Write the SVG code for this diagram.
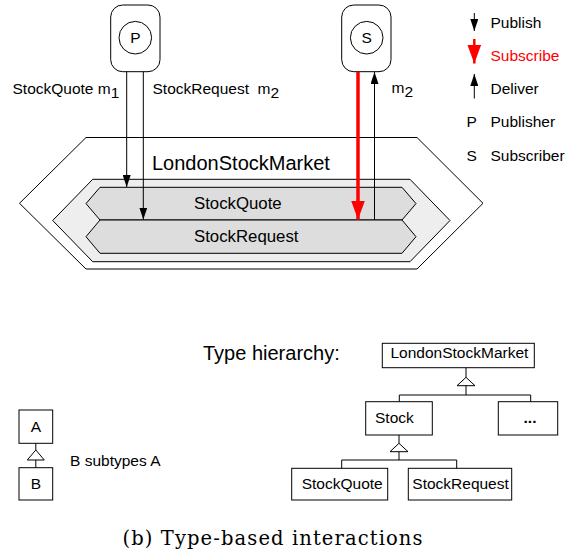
<svg xmlns="http://www.w3.org/2000/svg" width="580" height="558" viewBox="0 0 580 558">
  <style>
    .t { font-family: "Liberation Sans", Arial, sans-serif; font-size: 15.5px; fill: #000; }
    .big { font-size: 20px; }
    .chan { font-size: 16.8px; }
    .red { fill: #ff0000; }
    .ln { stroke: #000; stroke-width: 1; fill: none; }
    .box { stroke: #000; stroke-width: 1; fill: #fff; }
    .serif { font-family: "DejaVu Serif", "Liberation Serif", serif; font-size: 19.5px; fill: #000; }
  </style>
  <defs>
    <marker id="arr" markerUnits="userSpaceOnUse" markerWidth="12" markerHeight="8" refX="12" refY="4" orient="auto">
      <path d="M0,0 L12,4 L0,8 z" fill="#000"/>
    </marker>
    <marker id="arrRed" markerUnits="userSpaceOnUse" markerWidth="19" markerHeight="14" refX="19" refY="7" orient="auto">
      <path d="M0,0 L19,7 L0,14 z" fill="#ff0000"/>
    </marker>
  </defs>

  <!-- event service hexagons -->
  <g id="LondonStockMarketArea">
    <polygon points="86,137.5 417,137.5 483,203.3 417,269 86,269 19.5,203.3" class="box"/>
    <polygon points="92.7,179.3 410,179.3 450,220.5 410,261.7 92.7,261.7 52.7,220.5" fill="#eeeeee" stroke="#000" stroke-width="1"/>
    <text class="t big" x="152" y="170">LondonStockMarket</text>
  </g>
  <g id="StockQuoteChannel">
    <polygon points="100,187.3 402,187.3 416,203.6 402,220 100,220 86,203.6" fill="#dddddd" stroke="#000" stroke-width="1"/>
    <text class="t chan" x="194" y="209">StockQuote</text>
  </g>
  <g id="StockRequestChannel">
    <polygon points="100,220 402,220 416,236.7 402,253.3 100,253.3 86,236.7" fill="#dddddd" stroke="#000" stroke-width="1"/>
    <text class="t chan" x="194" y="242">StockRequest</text>
  </g>

  <!-- publisher -->
  <g id="Publisher">
    <rect x="110.7" y="5" width="49.3" height="66.7" rx="12" class="box"/>
    <circle cx="135.3" cy="37.7" r="16.3" class="box"/>
    <text class="t" x="135.3" y="43.3" text-anchor="middle">P</text>
  </g>

  <!-- subscriber -->
  <g id="Subscriber">
    <rect x="341.7" y="5" width="49.3" height="66.7" rx="12" class="box"/>
    <circle cx="366.7" cy="37.7" r="16.3" class="box"/>
    <text class="t" x="366.7" y="43.3" text-anchor="middle">S</text>
  </g>

  <!-- interactions -->
  <g id="connectors">
    <line x1="126.7" y1="71.7" x2="126.7" y2="187" class="ln" marker-end="url(#arr)"/>
    <line x1="143.3" y1="71.7" x2="143.3" y2="219.5" class="ln" marker-end="url(#arr)"/>
    <line x1="358" y1="71.7" x2="358" y2="219.5" stroke="#ff0000" stroke-width="3.5" marker-end="url(#arrRed)"/>
    <line x1="374.5" y1="220" x2="374.5" y2="72" class="ln" marker-end="url(#arr)"/>
  </g>
  <g id="connectorLabels">
    <text class="t" x="12.5" y="94.3">StockQuote m<tspan dy="4">1</tspan></text>
    <text class="t" x="152.5" y="94.3" xml:space="preserve">StockRequest  m<tspan dy="4">2</tspan></text>
    <text class="t" x="391.5" y="93.3">m<tspan dy="4">2</tspan></text>
  </g>

  <!-- legend -->
  <g id="legend">
    <line x1="474.3" y1="13" x2="474.3" y2="31" class="ln" marker-end="url(#arr)"/>
    <text class="t" x="490.5" y="27.8">Publish</text>
    <line x1="474.3" y1="39" x2="474.3" y2="63.5" stroke="#ff0000" stroke-width="2.5" marker-end="url(#arrRed)"/>
    <text class="t red" x="490.5" y="61">Subscribe</text>
    <line x1="474.3" y1="98.5" x2="474.3" y2="74" class="ln" marker-end="url(#arr)"/>
    <text class="t" x="490.5" y="94">Deliver</text>
    <text class="t" x="466.5" y="127">P</text>
    <text class="t" x="490.5" y="127">Publisher</text>
    <text class="t" x="466.5" y="160.5">S</text>
    <text class="t" x="490.5" y="160.5">Subscriber</text>
  </g>

  <!-- type hierarchy -->
  <text class="t" style="font-size:20px" x="203" y="360">Type hierarchy:</text>
  <g id="TypeLondonStockMarket">
    <rect x="382.3" y="343.3" width="152" height="24.4" class="box"/>
    <text class="t" x="390.5" y="357.7">LondonStockMarket</text>
  </g>
  <g id="TypeStock">
    <rect x="365.7" y="401.7" width="66.6" height="33.3" class="box"/>
    <text class="t" x="375" y="423">Stock</text>
  </g>
  <g id="TypeMore">
    <rect x="498.3" y="401.7" width="59.4" height="33.3" class="box"/>
    <text class="t" x="530" y="423" text-anchor="middle" font-weight="bold">...</text>
  </g>
  <g id="TypeStockQuote">
    <rect x="291.7" y="468.3" width="96" height="31.7" class="box"/>
    <text class="t" x="301.7" y="489">StockQuote</text>
  </g>
  <g id="TypeStockRequest">
    <rect x="408.3" y="468.3" width="103.4" height="31.7" class="box"/>
    <text class="t" x="412.3" y="489">StockRequest</text>
  </g>
  <g id="inheritance">
    <polyline points="466,367.7 466,377.3" class="ln"/>
    <polygon points="466,377.3 475,385.7 457,385.7" class="box"/>
    <polyline points="466,385.7 466,395" class="ln"/>
    <polyline points="399.3,401.7 399.3,395 530.7,395 530.7,401.7" class="ln"/>
    <polyline points="399,435 399,443.3" class="ln"/>
    <polygon points="399,443.3 408,451.7 390,451.7" class="box"/>
    <polyline points="399,451.7 399,460" class="ln"/>
    <polyline points="341.7,468.3 341.7,460 456.7,460 456.7,468.3" class="ln"/>
  </g>

  <!-- subtype key -->
  <g id="KeyA">
    <rect x="19" y="410" width="33.7" height="33.3" class="box"/>
    <text class="t" x="35.8" y="431.5" text-anchor="middle">A</text>
  </g>
  <g id="KeyB">
    <rect x="19" y="467.7" width="33.7" height="32.3" class="box"/>
    <text class="t" x="35.8" y="489" text-anchor="middle">B</text>
  </g>
  <g id="keyLink">
    <polyline points="35.8,443.3 35.8,450" class="ln"/>
    <polygon points="35.8,450 44.3,460 27.3,460" class="box"/>
    <polyline points="35.8,460 35.8,467.7" class="ln"/>
  </g>
  <text class="t" x="70" y="465.5">B subtypes A</text>

  <text class="serif" x="122.5" y="545" textLength="300" lengthAdjust="spacing">(b) Type-based interactions</text>
</svg>
